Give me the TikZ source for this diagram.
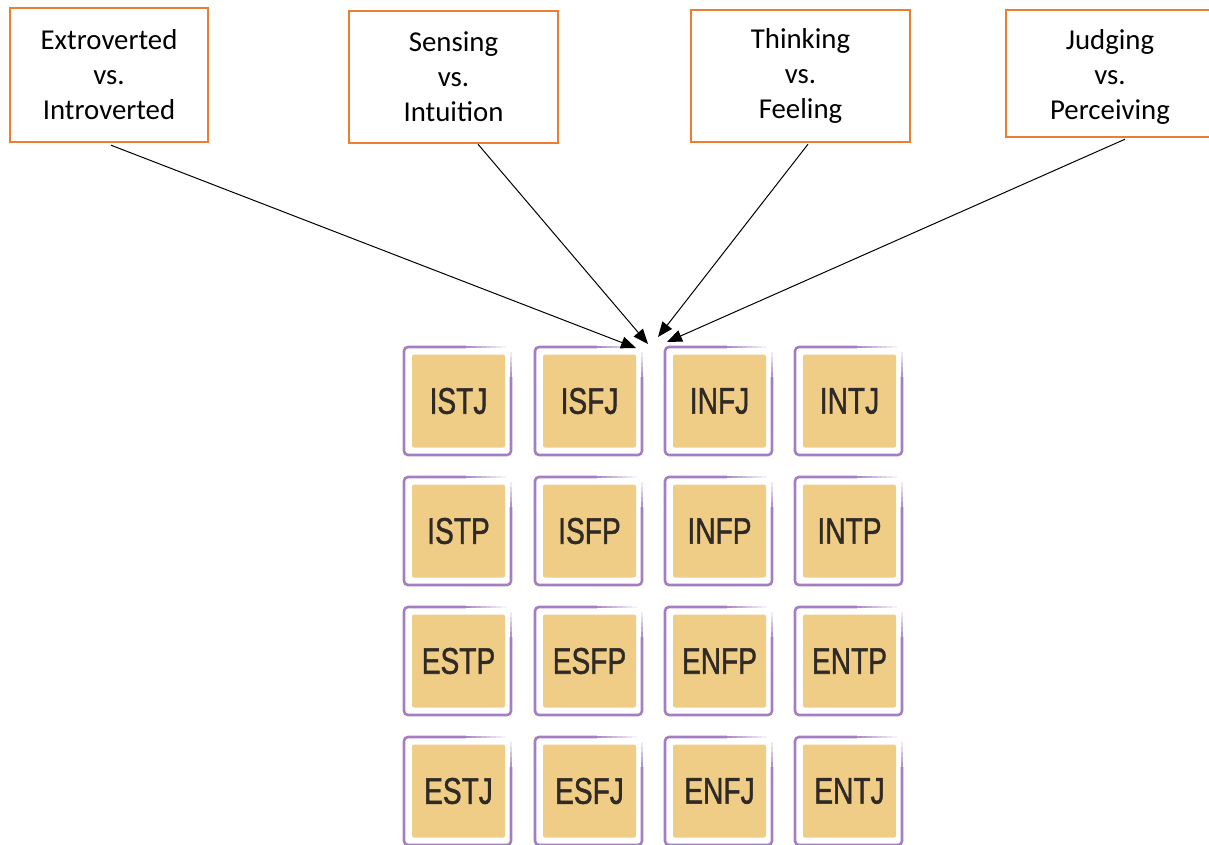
\documentclass[tikz,border=0pt]{standalone}
\usepackage{fontspec}
\setmainfont{Carlito}
\newfontfamily\tilefont[FakeBold=1.4]{Liberation Sans}
\usetikzlibrary{arrows.meta,calc}

\definecolor{boxorange}{HTML}{ED7D31}
\definecolor{tilegold}{HTML}{EFCD86}
\definecolor{tilepurple}{HTML}{A47EC3}
\definecolor{tiletext}{HTML}{2F2A26}

\tikzset{
  dimtext/.style={align=center, inner sep=0pt, font=\fontsize{28.8}{35}\selectfont},
  dimbox/.style={dimtext, draw=boxorange, line width=2.4pt, fill=white},
  goldsq/.style={fill=tilegold, rounded corners=2pt, minimum size=93pt,
    inner sep=0pt, text=tiletext, font=\tilefont\fontsize{37}{37}\selectfont},
  tileframe/.style={draw=tilepurple, line width=2.6pt},
  conn/.style={-{Triangle[length=15pt,width=12pt]}, line width=1pt, black},
}

% one type tile: gold square with its purple frame fading out at the top right
\newcommand\mbtile[4]{%
  \node[goldsq] (#1) at (#2,#3) {\scalebox{0.76}[1]{#4}};
  \pgfmathsetmacro\fl{#2-54.5}\pgfmathsetmacro\fr{#2+52.5}%
  \pgfmathsetmacro\ft{#3-54}\pgfmathsetmacro\fb{#3+54}%
  \draw[tileframe, rounded corners=4pt]
    (\fl+62,\ft) -- (\fl,\ft) -- (\fl,\fb) -- (\fr,\fb) -- (\fr,\ft+30);
  \foreach \k [evaluate=\k as \op using {1-(\k+1)/9}] in {0,...,7}
    \draw[tileframe, draw opacity=\op] (\fl+62+\k*5,\ft) -- (\fl+62+\k*5+5,\ft);
  \foreach \k [evaluate=\k as \op using {1-(\k+1)/6}] in {0,...,4}
    \draw[tileframe, draw opacity=\op] (\fr,\ft+30-\k*5) -- (\fr,\ft+25-\k*5);
}

\begin{document}
\begin{tikzpicture}[x=1pt,y=-1pt]
\useasboundingbox (0,0) rectangle (1209,844);

% the four dimensions
\node[dimbox, minimum width=198pt, minimum height=134pt] (ei) at (109,75)
  {Extroverted\\vs.\\Introverted};
\node[dimbox, minimum width=209pt, minimum height=132pt] (sn) at (453.5,77)
  {Sensing\\vs.\\Intuition};
\node[dimbox, minimum width=219pt, minimum height=132pt] (tf) at (800.5,76)
  {Thinking\\vs.\\Feeling};
\node[dimbox, minimum width=208pt, minimum height=127pt] (jp) at (1110,73.5) {};
\node[dimtext] (jplabel) at ($(jp.center)+(0,3.5)$)
  {Judging\\vs.\\Perceiving};

% the sixteen types
\mbtile{istj}{458.5}{401}{ISTJ}
\mbtile{isfj}{589.5}{401}{ISFJ}
\mbtile{infj}{719.5}{401}{INFJ}
\mbtile{intj}{849.5}{401}{INTJ}
\mbtile{istp}{458.5}{531}{ISTP}
\mbtile{isfp}{589.5}{531}{ISFP}
\mbtile{infp}{719.5}{531}{INFP}
\mbtile{intp}{849.5}{531}{INTP}
\mbtile{estp}{458.5}{661}{ESTP}
\mbtile{esfp}{589.5}{661}{ESFP}
\mbtile{enfp}{719.5}{661}{ENFP}
\mbtile{entp}{849.5}{661}{ENTP}
\mbtile{estj}{458.5}{791}{ESTJ}
\mbtile{esfj}{589.5}{791}{ESFJ}
\mbtile{enfj}{719.5}{791}{ENFJ}
\mbtile{entj}{849.5}{791}{ENTJ}

% arrows converging above the grid
\coordinate (h1) at (636,348);
\coordinate (h2) at (648,344);
\coordinate (h3) at (658,337);
\coordinate (h4) at (667,342);
\draw[conn] ($(ei.south)+(2,2)$) -- (h1);
\draw[conn] ($(sn.south)+(24.5,0)$) -- (h2);
\draw[conn] ($(tf.south)+(7.5,1)$) -- (h3);
\draw[conn] ($(jp.south)+(15,1)$) -- (h4);
\end{tikzpicture}
\end{document}
